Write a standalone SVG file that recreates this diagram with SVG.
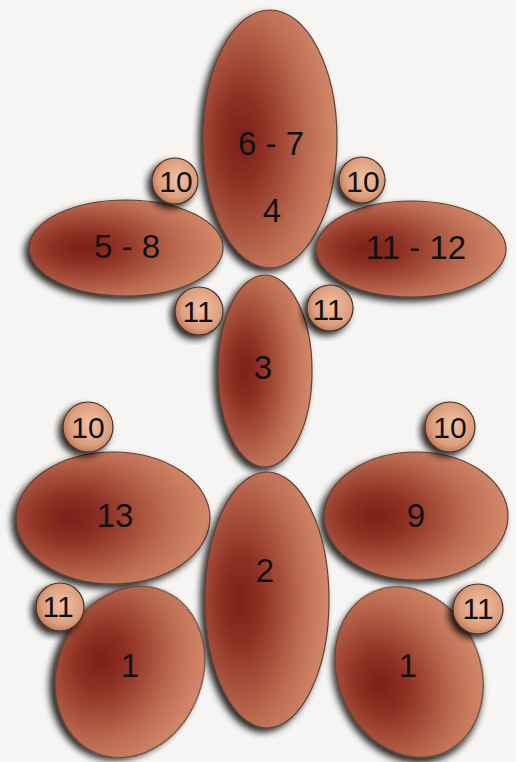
<svg xmlns="http://www.w3.org/2000/svg" width="516" height="762" viewBox="0 0 516 762">
  <defs>
    <radialGradient id="big" cx="0.32" cy="0.5" r="0.85" fx="0.28" fy="0.5">
      <stop offset="0" stop-color="#7e1f19"/>
      <stop offset="0.2" stop-color="#8f3024"/>
      <stop offset="0.55" stop-color="#bb6a50"/>
      <stop offset="0.85" stop-color="#d88e6e"/>
      <stop offset="1" stop-color="#e4a483"/>
    </radialGradient>
    <radialGradient id="small" cx="0.55" cy="0.45" r="0.6">
      <stop offset="0" stop-color="#f1c2a4"/>
      <stop offset="0.7" stop-color="#dc9e7e"/>
      <stop offset="1" stop-color="#b8714f"/>
    </radialGradient>
    <filter id="shadow" x="-20%" y="-20%" width="140%" height="140%">
      <feGaussianBlur in="SourceAlpha" stdDeviation="3.5" result="b"/>
      <feOffset in="b" dx="-4" dy="4" result="o"/>
      <feComponentTransfer in="o" result="s">
        <feFuncA type="linear" slope="0.85"/>
      </feComponentTransfer>
      <feMerge>
        <feMergeNode in="s"/>
        <feMergeNode in="SourceGraphic"/>
      </feMerge>
    </filter>
  </defs>
  <style>
    .big { fill: url(#big); stroke: #5e4032; stroke-width: 1.2; filter: url(#shadow); }
    .sm { fill: url(#small); stroke: #4a3024; stroke-width: 1.2; filter: url(#shadow); }
    text { font-family: "Liberation Sans", Arial, sans-serif; fill: #111; text-anchor: middle; }
    .bt { font-size: 33px; }
    .st { font-size: 30px; }
  </style>
  <rect width="516" height="762" fill="#f6f5f4"/>

  <g id="n4">
    <ellipse class="big" cx="270" cy="139" rx="67" ry="129"/>
    <text class="bt" x="271" y="155">6 - 7</text>
    <text class="bt" x="272" y="222">4</text>
  </g>
  <g id="n58">
    <ellipse class="big" cx="126" cy="248" rx="97" ry="48"/>
    <text class="bt" x="127" y="258">5 - 8</text>
  </g>
  <g id="n1112">
    <ellipse class="big" cx="411" cy="249" rx="95" ry="48"/>
    <text class="bt" x="416" y="259">11 - 12</text>
  </g>
  <g id="n3">
    <ellipse class="big" cx="265" cy="371" rx="47" ry="96"/>
    <text class="bt" x="263" y="379">3</text>
  </g>
  <g id="n13">
    <ellipse class="big" cx="113" cy="518" rx="97" ry="66"/>
    <text class="bt" x="115" y="527">13</text>
  </g>
  <g id="n9">
    <ellipse class="big" cx="416" cy="516" rx="92" ry="64"/>
    <text class="bt" x="416" y="527">9</text>
  </g>
  <g id="n2">
    <ellipse class="big" cx="267" cy="600" rx="62" ry="128"/>
    <text class="bt" x="265" y="582">2</text>
  </g>
  <g id="n1a">
    <ellipse class="big" cx="130" cy="672" rx="72" ry="88" transform="rotate(23 130 672)"/>
    <text class="bt" x="130" y="677">1</text>
  </g>
  <g id="n1b">
    <ellipse class="big" cx="409" cy="672" rx="71" ry="88" transform="rotate(-24 409 672)"/>
    <text class="bt" x="408" y="677">1</text>
  </g>

  <g id="c10a">
    <circle class="sm" cx="175" cy="181" r="23"/>
    <text class="st" x="176" y="192">10</text>
  </g>
  <g id="c10b">
    <circle class="sm" cx="362" cy="180" r="23"/>
    <text class="st" x="363" y="192">10</text>
  </g>
  <g id="c11a">
    <circle class="sm" cx="199" cy="311" r="24"/>
    <text class="st" x="198" y="322">11</text>
  </g>
  <g id="c11b">
    <circle class="sm" cx="330" cy="308" r="23"/>
    <text class="st" x="328" y="320">11</text>
  </g>
  <g id="c10c">
    <circle class="sm" cx="88" cy="427" r="25"/>
    <text class="st" x="88" y="438">10</text>
  </g>
  <g id="c10d">
    <circle class="sm" cx="450" cy="427" r="25"/>
    <text class="st" x="450" y="438">10</text>
  </g>
  <g id="c11c">
    <circle class="sm" cx="60" cy="607" r="24"/>
    <text class="st" x="58" y="617">11</text>
  </g>
  <g id="c11d">
    <circle class="sm" cx="478" cy="609" r="25"/>
    <text class="st" x="478" y="619">11</text>
  </g>

  <g id="connectors"/>
</svg>
